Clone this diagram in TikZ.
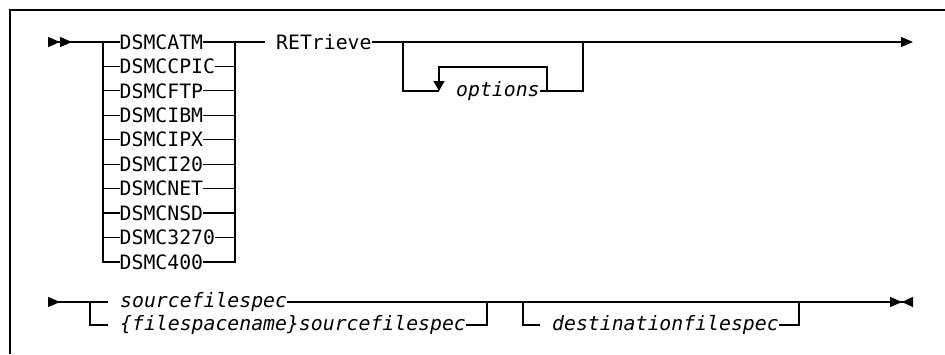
\documentclass[tikz,border=0pt]{standalone}
\usepackage{fontspec}
\setmonofont{DejaVu Sans Mono}
\usetikzlibrary{arrows.meta}
\newcommand\railfont{\ttfamily\fontsize{19.8pt}{22pt}\selectfont}

\begin{document}
\begin{tikzpicture}[x=1pt, y=-1pt,
  frame/.style = {line width=1.3pt},
  rail/.style  = {line width=1.2pt},
  kw/.style    = {font=\railfont, inner sep=0pt, anchor=west,
                  text height=16pt, text depth=1.6pt},   % centre on the cap middle
  var/.style   = {kw, font=\railfont\itshape,
                  text height=12pt, text depth=1.2pt},   % centre on the x-height middle
  tip/.style   = {Triangle[length=12pt,width=10pt]},
  begin/.style = {rail, {Triangle[length=12pt,width=10pt,reversed]
                        Triangle[length=12pt,width=10pt,reversed]}-},
  cont/.style  = {rail, {Triangle[length=12pt,width=10pt,reversed]}-},
  goon/.style  = {rail, -{Triangle[length=12pt,width=10pt]}},
  stop/.style  = {rail, -{Triangle[length=12pt,width=10pt]
                         Triangle[length=11pt,width=10pt,reversed]}},
  back/.style  = {rail, -{Triangle[length=10pt,width=11pt]}},
]
  \useasboundingbox (0,0) rectangle (945,354);
  \draw[frame] (10,354) -- (10,10) -- (945,10);

  % first line: the program name, RETrieve, options
  \coordinate (s1) at (48,42);
  \foreach \prog [count=\i from 0] in {DSMCATM,DSMCCPIC,DSMCFTP,DSMCIBM,DSMCIPX,
                                      DSMCI20,DSMCNET,DSMCNSD,DSMC3270,DSMC400} {
    \coordinate (l\i) at (103,42+24.44*\i);
    \coordinate (r\i) at (235,42+24.44*\i);
    \node[kw] (it\i) at (119.5,42+24.44*\i) {\prog};
  }
  \foreach \i in {1,...,8} {
    \draw[rail] (l\i) -- (it\i) -- (r\i);
  }
  \draw[begin] (s1) -- (l0) -- (it0);
  \draw[rail] (l0) -- (l9) -- (it9);
  \draw[rail] (it9) -- (r9) -- (r0);

  \node[kw] (ret) at (276,42) {RETrieve};
  \coordinate (g1) at (265,42);
  \draw[rail] (it0) -- (r0) -- (g1);

  \coordinate (b1)  at (403,42);
  \coordinate (b1d) at (403,91);
  \coordinate (b2)  at (583,42);
  \coordinate (b2d) at (583,91);
  \coordinate (o1)  at (439,91);
  \coordinate (o1u) at (439,67);
  \coordinate (o2)  at (547,91);
  \coordinate (o2u) at (547,67);
  \coordinate (e1)  at (913,42);
  \node[var] (opt) at (456,91) {options};
  \draw[goon] (ret) -- (b1) -- (b2) -- (e1);
  \draw[rail] (b1) -- (b1d) -- (o1);
  \draw[back] (o2) -- (o2u) -- (o1u) -- (o1);
  \draw[rail] (opt) -- (b2d) -- (b2);

  % second line: source and destination
  \coordinate (s2)  at (48,302);
  \coordinate (j2)  at (90,302);
  \coordinate (j2d) at (90,325);
  \coordinate (g2)  at (108,302);
  \coordinate (g2d) at (108,325);
  \node[var] (src)  at (120,302) {sourcefilespec};
  \node[var] (fsrc) at (120,325) {\{filespacename\}sourcefilespec};
  \draw[cont] (s2) -- (g2);
  \draw[rail] (j2) -- (j2d) -- (g2d);

  \coordinate (m1)  at (487,302);
  \coordinate (m1d) at (487,325);
  \coordinate (m2)  at (523,302);
  \coordinate (m2d) at (523,325);
  \coordinate (g3)  at (540,325);
  \coordinate (m3)  at (799,302);
  \coordinate (m3d) at (799,325);
  \coordinate (e2)  at (913,302);
  \node[var] (dest) at (552,325) {destinationfilespec};
  \draw[stop] (src) -- (m1) -- (m2) -- (m3) -- (e2);
  \draw[rail] (fsrc) -- (m1d) -- (m1);
  \draw[rail] (m2) -- (m2d) -- (g3);
  \draw[rail] (dest) -- (m3d) -- (m3);
\end{tikzpicture}
\end{document}
